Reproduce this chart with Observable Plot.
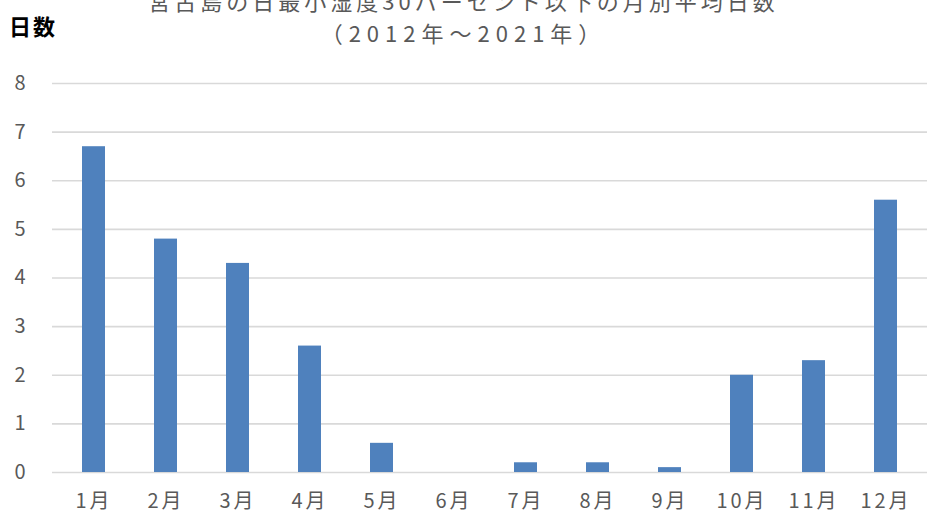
<!DOCTYPE html>
<html><head><meta charset="utf-8">
<script src="https://cdn.jsdelivr.net/npm/d3@7"></script>
<script src="https://cdn.jsdelivr.net/npm/@observablehq/plot@0.6"></script>
<style>
body{margin:0;background:#fff;font-family:"Noto Sans CJK JP",sans-serif;}
#wrap{position:relative;width:927px;height:514px;overflow:hidden;}
.title{position:absolute;left:0;width:927px;text-align:center;color:#595959;font-size:22px;white-space:nowrap;}
#ylab{position:absolute;left:9px;top:9px;font-size:22px;font-weight:bold;color:#000;letter-spacing:2px;}
</style></head>
<body><div id="wrap">
<div class="title" style="top:-16px;letter-spacing:4px">宮古島の日最小湿度30パーセント以下の月別平均日数</div>
<div class="title" style="top:16px;letter-spacing:6px">（2012年～2021年）</div>
<div id="ylab">日数</div>
<div id="chart"></div>
</div>
<script>
const months = ["1月","2月","3月","4月","5月","6月","7月","8月","9月","10月","11月","12月"];
const days = [6.7,4.8,4.3,2.6,0.6,0,0.2,0.2,0.1,2.0,2.3,5.6];
const yTicks = [0,1,2,3,4,5,6,7,8];
const data = months.map((m,i)=>({month:m, value:days[i]}));
const chart = Plot.plot({
  width:927, height:514,
  marginLeft:52, marginRight:0, marginTop:83, marginBottom:42,
  style:{fontFamily:'"Noto Sans CJK JP",sans-serif', background:"transparent"},
  x:{domain:months, paddingInner:0.68, paddingOuter:0.34, label:null},
  y:{domain:[0,8], ticks:yTicks, label:null},
  marks:[
    Plot.ruleY(yTicks,{stroke:"#d9d9d9", strokeWidth:1.6}),
    Plot.barY(data,{x:"month", y:"value", fill:"#4F81BD"}),
    Plot.axisX({tickSize:0, tickPadding:21, fontSize:20, fill:"#595959", label:null}),
    Plot.axisY({ticks:yTicks, tickSize:0, tickPadding:24, fontSize:20, fill:"#595959", label:null})
  ]
});
chart.style.position="absolute"; chart.style.left="0"; chart.style.top="0";
chart.querySelectorAll("text").forEach(t=>t.setAttribute("letter-spacing","3"));
document.getElementById("chart").appendChild(chart);
</script>
</body></html>
